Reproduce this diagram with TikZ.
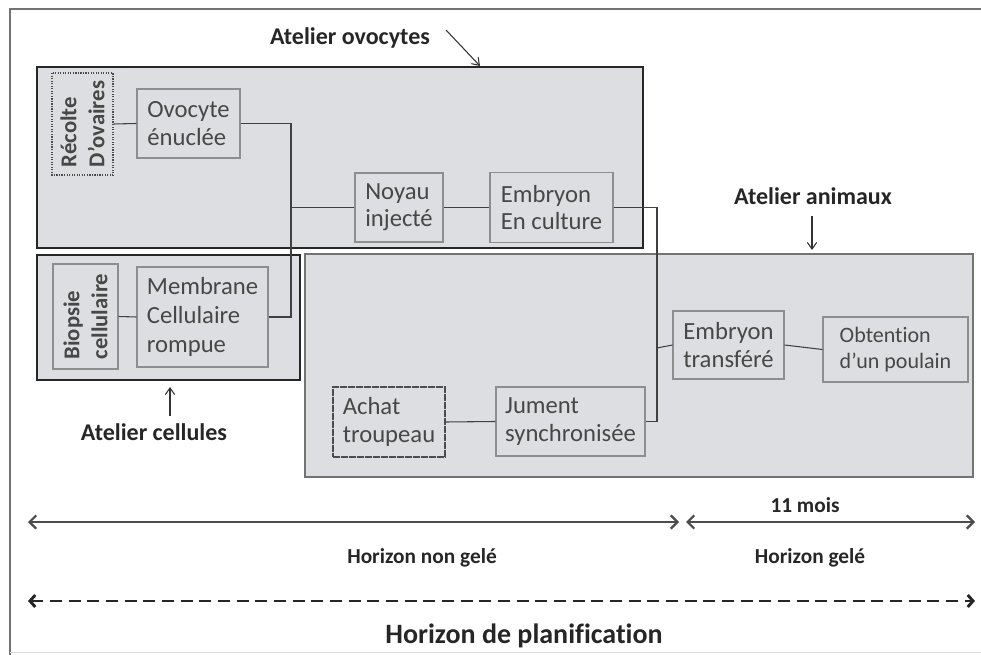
\documentclass[tikz,border=0pt]{standalone}
\usepackage{fontspec}
\setmainfont{Carlito}[Ligatures=NoCommon]
\usetikzlibrary{arrows.meta, positioning}

\definecolor{fondgris}{HTML}{DCDEE1}
\definecolor{textegris}{HTML}{474747}
\definecolor{traitgris}{HTML}{8C8E90}
\newcommand{\px}{0.75pt}

\tikzset{
  atelier/.style={rectangle, draw=black!85, line width=1.5pt, fill=fondgris},
  etape/.style={rectangle, draw=traitgris, line width=0.9pt, fill=fondgris, text=textegris, align=left, font=\fontsize{18.5}{20.5}\selectfont, inner sep=2pt},
  etape_vert/.style={etape, rotate=90, font=\fontsize{17}{21}\selectfont\bfseries},
  bord_pointille/.style={draw=black!70, densely dotted},
  liaison/.style={draw=black!75, line width=0.8pt},
  fleche/.style={draw=black!80, line width=0.8pt, -{Straight Barb[length=5pt, width=7pt]}},
  horizon/.style={draw=black!70, line width=1.6pt, {Straight Barb[length=5pt,width=10pt]}-{Straight Barb[length=5pt,width=10pt]}}
}

\begin{document}
\begin{tikzpicture}[
        x=\px, y=-\px,
        atelier_label/.style={font=\fontsize{18}{21}\selectfont\bfseries, text=black!85},
        horizon_label/.style={font=\fontsize{16}{19}\selectfont\bfseries, text=black!85},
        plan_label/.style={font=\fontsize{21}{24}\selectfont\bfseries, text=black!85}
    ]
        \useasboundingbox (0,0) rectangle (981,655);

        % Cadre
        \draw[black!55, line width=1pt] (981,9) -- (10,9) -- (10,655);
        \draw[black!15, line width=0.6pt] (10,652) -- (981,652);

        % Ateliers
        \node[atelier, draw=black!55, line width=1.1pt, minimum width=668*\px, minimum height=223*\px] (animaux) at (639,365.5) {};
        \node[atelier, minimum width=606*\px, minimum height=181*\px] (ovocytes) at (340,157.5) {};
        \node[atelier, minimum width=263*\px, minimum height=125*\px] (cellules) at (168.5,317.5) {};

        % Etapes
        \node[etape_vert, bord_pointille, minimum width=102*\px, minimum height=61*\px] (recolte) at (82.5,124) {Récolte\\D’ovaires};
        \node[etape, minimum width=103*\px, minimum height=69*\px] (ovocyte) at (188.5,123.5) {Ovocyte\\énuclée};
        \node[etape, minimum width=88*\px, minimum height=69*\px] (noyau) at (399,207.5) {Noyau\\injecté};
        \node[etape, minimum width=123*\px, minimum height=70*\px] (culture) at (551.5,207.5) {Embryon\\En culture};
        \node[etape_vert, minimum width=105*\px, minimum height=65*\px] (biopsie) at (85.5,316.5) {Biopsie\\cellulaire};
        \node[etape, font=\fontsize{18.5}{22}\selectfont, minimum width=131*\px, minimum height=100*\px] (membrane) at (202.5,317) {Membrane\\Cellulaire\\rompue};
        \node[etape, minimum width=111*\px, minimum height=68*\px] (transfere) at (728.5,345) {Embryon\\transféré};
        \node[etape, font=\fontsize{16.5}{20}\selectfont, minimum width=145*\px, minimum height=65*\px] (poulain) at (895.5,349.5) {Obtention\\d’un poulain};
        \node[etape, draw=black!70, dash pattern=on 5pt off 1pt, minimum width=112*\px, minimum height=70*\px] (achat) at (389,422) {Achat\\troupeau};
        \node[etape, minimum width=149*\px, minimum height=69*\px] (jument) at (570.5,421.5) {Jument\\synchronisée};

        % Liaisons
        \coordinate (jonction1) at (291,207.5);
        \coordinate (jonction2) at (657,348);
        \draw[liaison] (recolte.south) -- (ovocyte.west);
        \draw[liaison] (ovocyte.east) -| (jonction1) |- (membrane.east);
        \draw[liaison] (jonction1) -- (noyau.west);
        \draw[liaison] (noyau.east) -- (culture.west);
        \draw[liaison] (culture.east) -| (jonction2) |- (jument.east);
        \draw[liaison] (jonction2) -- (transfere.west);
        \draw[liaison] (transfere.east) -- (poulain.west);
        \draw[liaison] (biopsie.south) -- (membrane.west);
        \draw[liaison] (achat.east) -- (jument.west);

        % Etiquettes des ateliers
        \node[atelier_label] (lbl_ovocytes) at (350,38) {Atelier ovocytes};
        \coordinate (fo_debut) at (446,30);
        \coordinate (fo_fin) at (480,66);
        \draw[fleche] (fo_debut) -- (fo_fin);

        \node[atelier_label] (lbl_animaux) at (813,196) {Atelier animaux};
        \coordinate (fa_debut) at (812,216);
        \coordinate (fa_fin) at (812,250);
        \draw[fleche] (fa_debut) -- (fa_fin);

        \node[atelier_label] (lbl_cellules) at (154,432) {Atelier cellules};
        \coordinate (fc_debut) at (170,416);
        \coordinate (fc_fin) at (170,387);
        \draw[fleche] (fc_debut) -- (fc_fin);

        % Horizons
        \coordinate (h_debut) at (28,522);
        \coordinate (h_milieu_g) at (679,522);
        \coordinate (h_milieu_d) at (686,522);
        \coordinate (h_fin) at (975,522);
        \draw[horizon] (h_debut) -- (h_milieu_g);
        \draw[horizon] (h_milieu_d) -- (h_fin);
        \node[horizon_label] (lbl_mois) at (805,505) {11 mois};
        \node[horizon_label] (lbl_non_gele) at (422,558) {Horizon non gelé};
        \node[horizon_label] (lbl_gele) at (810,558) {Horizon gelé};

        \coordinate (p_debut) at (28,601);
        \coordinate (p_fin) at (975,601);
        \draw[black!85, line width=2.2pt, dash pattern=on 9pt off 5pt, {Straight Barb[length=4pt,width=9pt]}-{Straight Barb[length=4pt,width=9pt]}] (p_debut) -- (p_fin);
        \node[plan_label] (lbl_plan) at (524,636) {Horizon de planification};

    \end{tikzpicture}
\end{document}
